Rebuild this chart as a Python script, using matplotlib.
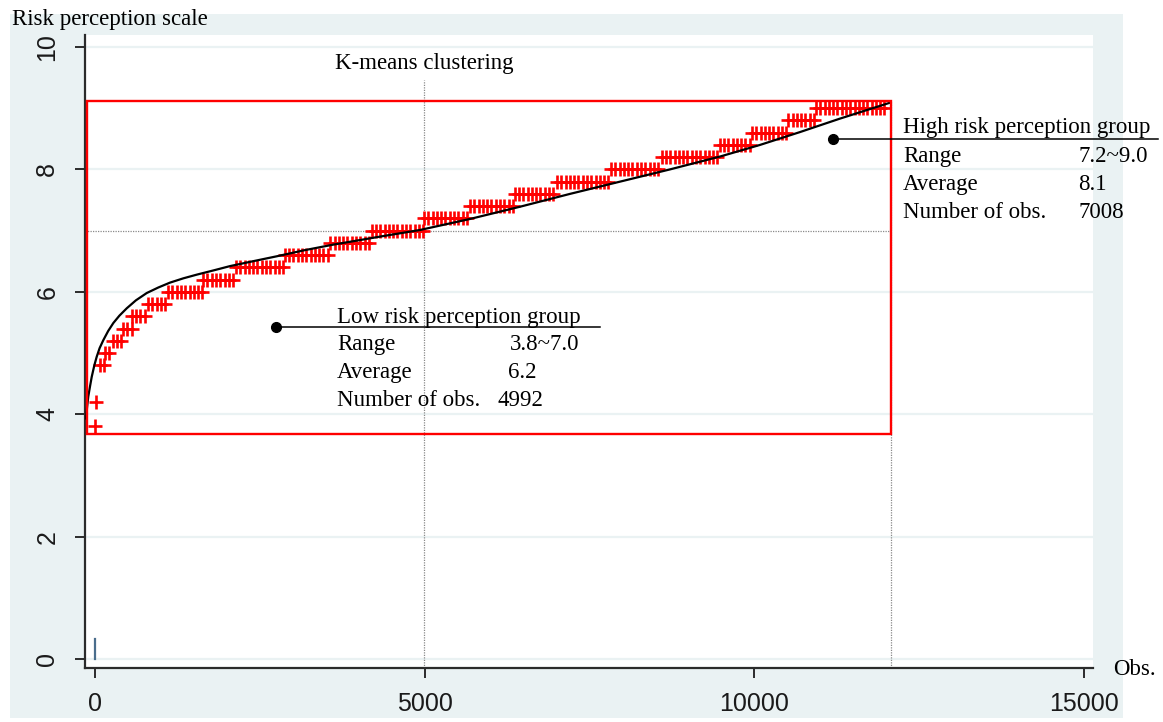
import numpy as np
import matplotlib
matplotlib.use("Agg")
import matplotlib.pyplot as plt
from matplotlib.patches import Rectangle

# sorted risk perception scores: level values and number of obs at each level
levels = [3.8, 4.2, 4.8, 5.0, 5.2, 5.4, 5.6, 5.8, 6.0, 6.2, 6.4, 6.6, 6.8, 7.0,
          7.2, 7.4, 7.6, 7.8, 8.0, 8.2, 8.4, 8.6, 8.8, 9.0]
counts = [15, 60, 75, 120, 155, 135, 245, 305, 530, 500, 740, 690, 630, 792,
          698, 680, 640, 820, 770, 880, 490, 550, 420, 1060]

# fitted curve
curve_x = [-137, -120, -102, -75, -50, -10, 26, 70, 126, 200, 278, 370, 481,
           620, 785, 960, 1138, 1340, 1543, 1800, 2049, 2400, 2757, 3180,
           3612, 4370, 4932, 5690, 6449, 7208, 7967, 8725, 9484, 10091,
           10698, 11305, 12064]
curve_y = [3.93, 4.12, 4.29, 4.46, 4.61, 4.80, 4.94, 5.08, 5.21, 5.36, 5.49,
           5.61, 5.73, 5.86, 5.98, 6.07, 6.15, 6.22, 6.28, 6.35, 6.42, 6.50,
           6.58, 6.68, 6.77, 6.91, 7.01, 7.19, 7.39, 7.60, 7.80, 8.00, 8.21,
           8.40, 8.61, 8.83, 9.09]

low_rows = ["Range", "Average", "Number of obs."]
low_vals = ["3.8~7.0", "6.2", "4992"]
high_vals = ["7.2~9.0", "8.1", "7008"]

n_low = 4992
n_total = 12080
cut_value = 7.0

serif = "Liberation Serif"
sans = "Liberation Sans"
bg = "#eaf2f3"
red = "#ff0000"
fs = 16.5

fig = plt.figure(figsize=(11.63, 7.22), dpi=100)
fig.patch.set_facecolor("white")

# bluish graph region behind the plot
bgax = fig.add_axes([10 / 1163, 4 / 722, 1113 / 1163, 704 / 722], zorder=-5)
bgax.set_facecolor(bg)
bgax.set_xticks([])
bgax.set_yticks([])
for s in bgax.spines.values():
    s.set_visible(False)

ax = fig.add_axes([85 / 1163, 54 / 722, 1008 / 1163, 633 / 722])
ax.set_facecolor("white")
ax.set_xlim(-152, 15144)
ax.set_ylim(-0.147, 10.196)

for s in ["top", "right"]:
    ax.spines[s].set_visible(False)
for s in ["left", "bottom"]:
    ax.spines[s].set_linewidth(1.6)
    ax.spines[s].set_color("#2b2b2b")

ax.set_xticks([0, 5000, 10000, 15000])
ax.set_yticks([0, 2, 4, 6, 8, 10])
ax.tick_params(axis="both", direction="out", length=7.5, width=1.4,
               color="#2b2b2b", labelsize=18, labelcolor="#1a1a1a")
ax.tick_params(axis="x", pad=10)
ax.tick_params(axis="y", pad=11)
for lab in ax.get_xticklabels() + ax.get_yticklabels():
    lab.set_fontfamily(sans)
for lab in ax.get_yticklabels():
    lab.set_rotation(90)
    lab.set_va("center")

ax.yaxis.grid(True, color=bg, linewidth=1.6, zorder=0)
ax.set_axisbelow(True)

# markers: one "+" about every 65 obs within each level
start = 0
for lev, cnt in zip(levels, counts):
    xs = np.arange(start, start + cnt, 65)
    ax.plot(xs, np.full(len(xs), lev), linestyle="none", marker="+",
            markersize=10, markeredgewidth=1.9, color=red, zorder=3)
    start += cnt

ax.plot(curve_x, curve_y, color="black", linewidth=1.6, zorder=4,
        solid_joinstyle="round")

# reference lines
dot = (0, (1, 1))
ax.plot([-152, n_total], [cut_value, cut_value], color="#8a8a8a", lw=0.9,
        linestyle=dot, zorder=2)
ax.plot([n_low, n_low], [-0.147, 9.46], color="#8a8a8a", lw=0.9,
        linestyle=dot, zorder=2)
ax.plot([n_total, n_total], [-0.147, 9.12], color="#8a8a8a", lw=0.9,
        linestyle=dot, zorder=2)

ax.add_patch(Rectangle((-120, 3.68), n_total + 120, 9.12 - 3.68, fill=False,
                       edgecolor=red, linewidth=1.7, zorder=5))

ax.plot([0, 0], [0, 0.33], color="#4a6d8c", linewidth=1.6, zorder=3)

# annotations
ax.text(n_low, 9.64, "K-means clustering", family=serif, fontsize=fs,
        ha="center", va="baseline")

ax.plot([2747, 7663], [5.43, 5.43], color="black", lw=1.1, zorder=6)
ax.plot([2747], [5.43], marker="o", markersize=7, color="black", zorder=6)
ax.text(3672, 5.49, "Low risk perception group", family=serif, fontsize=fs,
        va="baseline")
for i, (lab, v, vx) in enumerate(zip(low_rows, low_vals, [6297, 6267, 6115])):
    yy = 5.05 - i * 0.455
    ax.text(3672, yy, lab, family=serif, fontsize=fs, va="baseline")
    ax.text(vx, yy, v, family=serif, fontsize=fs, va="baseline")

ax.plot([11199, 16130], [8.49, 8.49], color="black", lw=1.1, zorder=6,
        clip_on=False)
ax.plot([11199], [8.49], marker="o", markersize=7, color="black", zorder=6)
ax.text(12261, 8.59, "High risk perception group", family=serif, fontsize=fs,
        va="baseline", clip_on=False)
for i, (lab, v) in enumerate(zip(low_rows, high_vals)):
    yy = 8.12 - i * 0.455
    ax.text(12261, yy, lab, family=serif, fontsize=fs, va="baseline",
            clip_on=False)
    ax.text(14917, yy, v, family=serif, fontsize=fs, va="baseline",
            clip_on=False)

ax.text(15448, -0.26, "Obs.", family=serif, fontsize=fs, va="baseline",
        clip_on=False)
fig.text(12 / 1163, (722 - 25) / 722, "Risk perception scale", family=serif,
         fontsize=fs, va="baseline")

fig.savefig("out.png", dpi=100)
